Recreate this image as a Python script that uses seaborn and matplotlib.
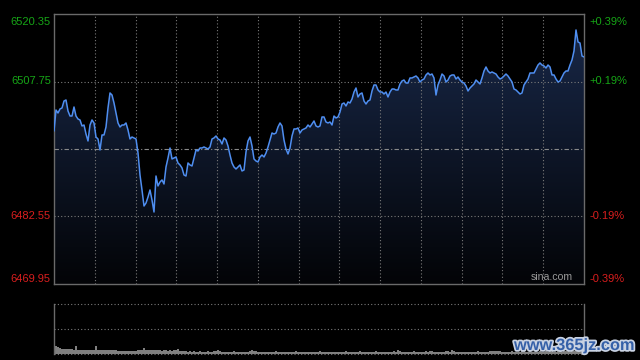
import numpy as np
import matplotlib
matplotlib.use("Agg")
import matplotlib.pyplot as plt
import matplotlib.patheffects as pe
from matplotlib.colors import LinearSegmentedColormap
from matplotlib.transforms import blended_transform_factory
import seaborn as sns

# intraday index level, one value every ~2 px of the original chart
price = [
    6498.51, 6502.43, 6501.87, 6502.62, 6502.81, 6504.11, 6504.30, 6502.25, 6501.31, 6501.31,
    6502.99, 6501.31, 6500.75, 6500.57, 6499.45, 6499.63, 6497.95, 6496.65, 6499.63, 6500.57,
    6500.01, 6497.39, 6497.02, 6494.97, 6497.77, 6497.77, 6499.26, 6502.81, 6505.61, 6505.23,
    6503.74, 6501.87, 6500.01, 6499.26, 6499.63, 6499.63, 6500.01, 6498.70, 6497.02, 6497.39,
    6497.21, 6497.02, 6494.41, 6490.30, 6487.50, 6484.51, 6485.07, 6486.19, 6487.50, 6485.63,
    6483.39, 6490.11, 6488.25, 6488.99, 6489.37, 6488.62, 6491.79, 6493.47, 6495.34, 6493.29,
    6493.47, 6493.66, 6492.54, 6492.17, 6491.61, 6490.30, 6490.11, 6492.54, 6492.17, 6491.98,
    6493.47, 6494.97, 6494.78, 6495.34, 6495.34, 6495.53, 6495.34, 6495.15, 6495.53, 6497.02,
    6497.21, 6497.58, 6497.02, 6496.83, 6496.09, 6497.21, 6496.83, 6495.71, 6494.03, 6492.54,
    6491.79, 6491.42, 6491.79, 6492.17, 6491.05, 6491.23, 6494.59, 6496.65, 6497.39, 6495.71,
    6493.29, 6492.91, 6492.73, 6493.66, 6494.03, 6493.66, 6494.41, 6495.53, 6496.83, 6498.14,
    6497.95, 6498.14, 6499.26, 6500.01, 6499.45, 6496.83, 6495.15, 6494.22, 6495.34, 6497.58,
    6498.89, 6498.89, 6499.07, 6498.14, 6498.70, 6498.89, 6499.07, 6499.63, 6499.26, 6499.82,
    6500.38, 6499.45, 6499.26, 6499.45, 6501.13, 6501.13, 6500.19, 6500.01, 6500.19, 6499.63,
    6501.31, 6500.94, 6501.13, 6502.06, 6503.55, 6503.74, 6503.18, 6503.93, 6503.74, 6504.49,
    6505.79, 6506.54, 6504.86, 6505.42, 6505.61, 6504.11, 6503.55, 6504.11, 6504.30, 6505.98,
    6507.10, 6507.10, 6506.17, 6505.79, 6505.79, 6505.42, 6505.79, 6504.86, 6505.79, 6506.35,
    6506.35, 6506.17, 6506.17, 6507.29, 6507.85, 6508.03, 6507.47, 6507.47, 6508.41, 6508.41,
    6508.59, 6508.78, 6508.41, 6507.66, 6508.03, 6508.22, 6508.97, 6509.34, 6508.97, 6509.15,
    6508.41, 6505.23, 6507.10, 6508.03, 6509.15, 6508.78, 6507.66, 6508.03, 6508.78, 6508.97,
    6508.97, 6508.22, 6508.59, 6508.03, 6507.66, 6507.47, 6506.91, 6505.98, 6506.54, 6506.91,
    6507.29, 6508.03, 6507.66, 6507.29, 6508.41, 6509.71, 6510.46, 6509.71, 6509.34, 6509.53,
    6509.34, 6509.15, 6508.59, 6508.22, 6508.41, 6508.78, 6509.15, 6508.78, 6508.22, 6507.66,
    6506.35, 6506.17, 6505.79, 6505.42, 6505.61, 6507.10, 6507.66, 6508.22, 6509.34, 6509.34,
    6509.34, 6510.09, 6510.83, 6511.21, 6510.83, 6510.65, 6510.27, 6510.83, 6510.46, 6508.97,
    6508.97, 6508.22, 6507.66, 6507.85, 6508.59, 6509.34, 6509.71, 6509.71, 6510.83, 6511.77,
    6513.45, 6517.37, 6515.13, 6514.94, 6512.51, 6512.33,
]

# traded volume per point (scale: panel top = 500)
volume = [
    80, 76, 70, 62, 52, 50, 50, 48, 50, 46,
    40, 78, 40, 44, 38, 40, 36, 40, 38, 42,
    40, 80, 44, 40, 38, 40, 40, 38, 40, 36,
    42, 38, 33, 34, 33, 32, 34, 33, 32, 34,
    33, 32, 36, 42, 44, 60, 42, 40, 38, 42,
    44, 38, 36, 40, 34, 36, 38, 33, 36, 30,
    38, 44, 50, 34, 28, 30, 26, 24, 28, 22,
    26, 24, 22, 26, 24, 22, 24, 26, 22, 24,
    26, 28, 36, 30, 24, 22, 24, 20, 24, 22,
    26, 22, 20, 24, 22, 24, 20, 22, 26, 38,
    34, 26, 22, 24, 20, 22,
    22, 20, 24, 22, 20, 26, 22, 20, 24, 22,
    20, 22, 24, 20, 22, 26, 22, 20, 22, 24,
    20, 22, 20, 24, 22, 20, 22, 26, 24, 20,
    22, 20, 24, 22, 20, 22, 20, 24, 22, 20,
    26, 22, 20, 22, 24, 20, 22, 28, 22, 20,
    22, 24, 20, 22, 20, 26, 22, 20, 22, 24,
    20, 22, 24, 20, 28, 22, 36, 26, 22, 20,
    22, 24, 20, 22, 26, 20, 22, 24, 20, 22,
    26, 24, 34, 28, 22, 20, 22, 24, 20, 22,
    26, 28, 22, 36, 30, 24, 22, 20, 22, 24,
    20, 22, 24, 22, 20, 22, 26, 24, 22, 20,
    22, 24, 26, 30, 28, 34, 30, 26, 24, 22,
    20, 22, 24, 26, 22, 20, 24, 22, 26, 28,
    24, 22, 26, 24, 22, 28, 24, 26, 22, 24,
    26, 24, 28, 26, 24, 22, 26, 28, 24, 26,
    28, 26, 24, 30, 28, 26, 30, 32, 36, 40,
]

y_levels = [6520.35, 6507.75, 6495.15, 6482.55, 6469.95]
left_labels = ["6520.35", "6507.75", "", "6482.55", "6469.95"]
right_labels = ["+0.39%", "+0.19%", "", "-0.19%", "-0.39%"]
n_sections = 13
vol_top = 500

sns.set_style("dark")
plt.rcParams["font.family"] = ["Liberation Sans", "DejaVu Sans"]

GREEN = "#16a516"
RED = "#d81e1e"
BORDER = "#6a6a6a"
GRID = "#7a7a7a"

fig = plt.figure(figsize=(6.4, 3.6), dpi=100, facecolor="black")
ax = fig.add_axes([54 / 640, 1 - 284 / 360, 530 / 640, 270 / 360], facecolor="black")
axv = fig.add_axes([54 / 640, 1 - 354 / 360, 530 / 640, 50 / 360], facecolor="black")

x = np.arange(len(price))
xmax = len(price) - 1

# price line
sns.lineplot(x=x, y=price, ax=ax, color="#4f8ef0", linewidth=1.1, zorder=4)
ax.set_xlim(0, xmax)
ax.set_ylim(y_levels[-1], y_levels[0])

# gradient area under the line
fill = ax.fill_between(x, price, y_levels[-1], color="none", zorder=2)
cmap = LinearSegmentedColormap.from_list("area", ["#030407", "#19294a"])
grad = np.linspace(1, 0, 256).reshape(-1, 1)
im = ax.imshow(grad, cmap=cmap, aspect="auto", zorder=1,
               extent=[0, xmax, y_levels[-1], y_levels[0]])
im.set_clip_path(fill.get_paths()[0], transform=ax.transData)

# grid
for lvl in (y_levels[1], y_levels[3]):
    ax.axhline(lvl, color=GRID, lw=0.8, ls=(0, (1, 2)), zorder=3)
ax.axhline(y_levels[2], color="#8a8a8a", lw=0.8, ls=(0, (4, 2, 1, 2)), zorder=3)
for k in range(1, n_sections):
    ax.axvline(k * xmax / n_sections, color=GRID, lw=0.8, ls=(0, (1, 2)), zorder=3)

ax.grid(False)
ax.set_xticks([])
ax.set_yticks([])
ax.set_xlabel("")
ax.set_ylabel("")
for s in ax.spines.values():
    s.set_visible(True)
    s.set_color(BORDER)
    s.set_linewidth(1)

# axis labels on both sides
trans = blended_transform_factory(ax.transAxes, ax.transData)
valigns = ["top", "center", "center", "center", "bottom"]
for i, lvl in enumerate(y_levels):
    col = GREEN if lvl > y_levels[2] else RED
    ax.text(-0.006, lvl - (0.6 if i == 0 else 0), left_labels[i], transform=trans,
            ha="right", va=valigns[i], color=col, fontsize=8)
    ax.text(1.011, lvl - (0.6 if i == 0 else 0), right_labels[i], transform=trans,
            ha="left", va=valigns[i], color=col, fontsize=8)

ax.text(0.979, 0.008, "sina.com", transform=ax.transAxes, ha="right", va="bottom",
        color="#9a9a9a", fontsize=7.6)

# volume panel
sns.barplot(x=x, y=volume, native_scale=True, color="#808080", width=0.7,
            errorbar=None, saturation=1, linewidth=0, ax=axv)
axv.set_xlim(0, xmax)
axv.set_ylim(0, vol_top)
for lvl in (vol_top, vol_top / 2, 0):
    axv.axhline(lvl, color=GRID, lw=0.8, ls=(0, (1, 2)), zorder=3, clip_on=False)
axv.grid(False)
axv.set_xticks([])
axv.set_yticks([])
axv.set_xlabel("")
axv.set_ylabel("")
for side, s in axv.spines.items():
    s.set_visible(side in ("left", "right"))
    s.set_color(BORDER)
    s.set_linewidth(1)

fig.text(635 / 640, 1 - 353 / 360, "www.365jz.com", ha="right", va="bottom",
         color="#3560a8", fontsize=11.8, fontweight="bold",
         path_effects=[pe.withStroke(linewidth=2.5, foreground="#c9d2e2")])

fig.savefig("out.png", dpi=100, facecolor="black")
